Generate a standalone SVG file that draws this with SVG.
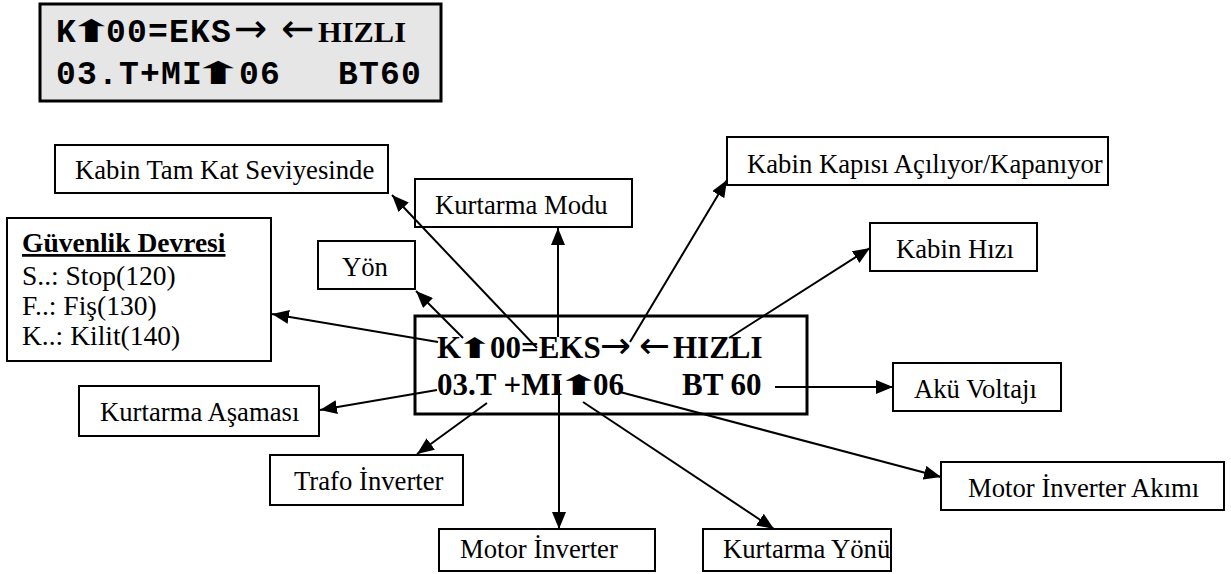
<svg xmlns="http://www.w3.org/2000/svg" width="1231" height="574" viewBox="0 0 1231 574">
<style>
.box{fill:#fff;stroke:#000;stroke-width:2}
.lbl{font-family:"Liberation Serif","Times New Roman",serif;font-size:26.7px;fill:#000}
.lst{font-family:"Liberation Serif","Times New Roman",serif;font-size:27.5px;fill:#000}
.mono{font-family:"Liberation Mono","Courier New",monospace;font-weight:bold;font-size:33px}
.tb{font-family:"Liberation Serif","Times New Roman",serif;font-weight:bold}
.sym{font-family:"DejaVu Sans",sans-serif;font-weight:normal}
.conn line{stroke:#000;stroke-width:2;marker-end:url(#ah)}
</style>
<defs>
<marker id="ah" viewBox="0 0 17 14" refX="17" refY="7" markerWidth="17" markerHeight="14" markerUnits="userSpaceOnUse" orient="auto">
<path d="M0,0 L17,7 L0,14 z" fill="#000"/>
</marker>
</defs>
<rect width="1231" height="574" fill="#fff"/>

<g id="lcd-top">
<rect x="40" y="4" width="401" height="97" fill="#e6e6e6" stroke="#000" stroke-width="3"/>
<text y="42" fill="#000"><tspan class="mono" x="56">K</tspan><tspan class="sym" x="69" font-size="31" textLength="45.5" lengthAdjust="spacingAndGlyphs">⬆</tspan><tspan class="mono" x="106 127 148 169 190 211">00=EKS</tspan><tspan class="sym" x="234" font-size="40">→</tspan><tspan class="sym" x="281" font-size="40">←</tspan><tspan class="tb" x="318" font-size="30" textLength="88" lengthAdjust="spacingAndGlyphs">HIZLI</tspan></text>
<text y="84" fill="#000"><tspan class="mono" x="56 77 98 119 140 161 182">03.T+MI</tspan><tspan class="sym" x="192" font-size="31" textLength="53.3" lengthAdjust="spacingAndGlyphs">⬆</tspan><tspan class="mono" x="239 260">06</tspan><tspan class="mono" x="338 359 380 401">BT60</tspan></text>
</g>

<g id="lcd-main">
<rect x="415" y="316" width="392" height="98" fill="#fff" stroke="#000" stroke-width="3"/>
<text y="358" class="tb" font-size="31" fill="#000"><tspan x="437">K</tspan><tspan class="sym" x="456.5" font-size="28" textLength="36.4" lengthAdjust="spacingAndGlyphs">⬆</tspan><tspan x="490">00=EKS</tspan><tspan class="sym" x="600" font-size="37">→</tspan><tspan class="sym" x="639" font-size="37">←</tspan><tspan x="673">HIZLI</tspan></text>
<text y="395" class="tb" font-size="31" fill="#000"><tspan x="437">03.T +MI</tspan><tspan class="sym" x="556.5" font-size="28" textLength="44.6" lengthAdjust="spacingAndGlyphs">⬆</tspan><tspan x="593">06</tspan><tspan x="682">BT 60</tspan></text>
</g>

<g id="n-kabin-tam">
<rect class="box" x="55" y="145" width="333" height="48"/>
<text class="lbl" x="75" y="179">Kabin Tam Kat Seviyesinde</text>
</g>
<g id="n-kurtarma-modu">
<rect class="box" x="415" y="179" width="217" height="48"/>
<text class="lbl" x="435" y="214">Kurtarma Modu</text>
</g>
<g id="n-kabin-kapisi">
<rect class="box" x="727" y="137" width="381" height="48"/>
<text class="lbl" x="747" y="173">Kabin Kapısı Açılıyor/Kapanıyor</text>
</g>
<g id="n-kabin-hizi">
<rect class="box" x="870" y="223" width="167" height="48"/>
<text class="lbl" x="896" y="258">Kabin Hızı</text>
</g>
<g id="n-aku">
<rect class="box" x="893" y="363" width="168" height="48"/>
<text class="lbl" x="914" y="398">Akü Voltajı</text>
</g>
<g id="n-motor-akim">
<rect class="box" x="941" y="462" width="283" height="48"/>
<text class="lbl" x="968" y="497">Motor İnverter Akımı</text>
</g>
<g id="n-guvenlik">
<rect class="box" x="7" y="218" width="264" height="143"/>
<text class="lst" x="22" y="252" font-weight="bold" text-decoration="underline">Güvenlik Devresi</text>
<text class="lst" x="22" y="285">S..: Stop(120)</text>
<text class="lst" x="22" y="315">F..: Fiş(130)</text>
<text class="lst" x="22" y="345">K..: Kilit(140)</text>
</g>
<g id="n-yon">
<rect class="box" x="318" y="241" width="97" height="48"/>
<text class="lbl" x="342" y="276">Yön</text>
</g>
<g id="n-kurtarma-asamasi">
<rect class="box" x="79" y="386" width="240" height="50"/>
<text class="lbl" x="100" y="421">Kurtarma Aşaması</text>
</g>
<g id="n-trafo">
<rect class="box" x="270" y="455" width="193" height="50"/>
<text class="lbl" x="294" y="490">Trafo İnverter</text>
</g>
<g id="n-motor-inv">
<rect class="box" x="439" y="529" width="216" height="42"/>
<text class="lbl" x="460" y="558">Motor İnverter</text>
</g>
<g id="n-kurtarma-yonu">
<rect class="box" x="703" y="529" width="188" height="42"/>
<text class="lbl" x="723" y="558">Kurtarma Yönü</text>
</g>

<g id="connectors" class="conn">
<line x1="537" y1="348" x2="392" y2="195"/>
<line x1="558" y1="337" x2="558" y2="228"/>
<line x1="463" y1="338" x2="416" y2="291"/>
<line x1="438" y1="342" x2="272" y2="314"/>
<line x1="437" y1="390" x2="320" y2="410"/>
<line x1="487" y1="403" x2="417" y2="454"/>
<line x1="559" y1="380" x2="559" y2="529"/>
<line x1="583" y1="402" x2="774" y2="529"/>
<line x1="620" y1="392" x2="941" y2="477"/>
<line x1="775" y1="387" x2="893" y2="387"/>
<line x1="729" y1="338" x2="870" y2="248"/>
<line x1="630" y1="342" x2="727" y2="180"/>
</g>
</svg>
